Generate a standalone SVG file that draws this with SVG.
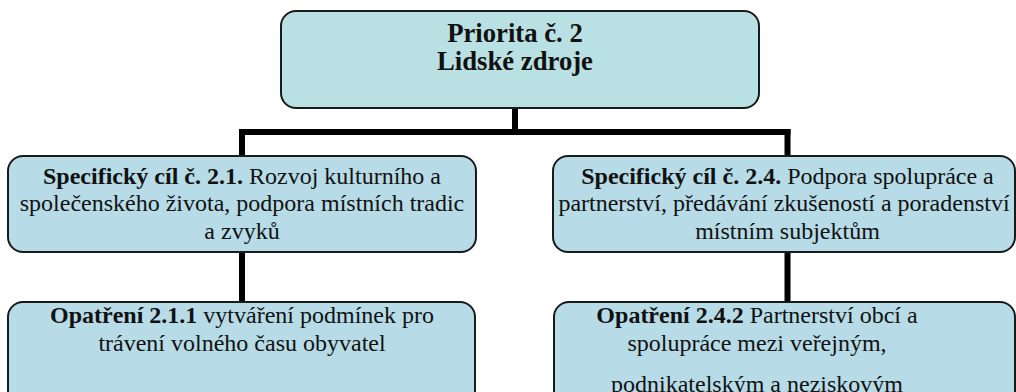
<svg xmlns="http://www.w3.org/2000/svg" width="1016" height="392" viewBox="0 0 1016 392" font-family="Liberation Serif">
<style>
.box{stroke:#1a1a1a;stroke-width:2}
.top{fill:#b9e0e3}
.sub{fill:#b7dce7}
text{fill:#111;text-anchor:middle}
.t1{font-size:26.7px;font-weight:bold}
.t2{font-size:24px}
.b{font-weight:bold}
.conn{stroke:#000;stroke-width:6;fill:none}
</style>
<rect width="1016" height="392" fill="#fff"/>
<g id="connectors">
<path class="conn" d="M515 107V132"/>
<path class="conn" d="M239 132H790.5"/>
<path class="conn" d="M242 129V156"/>
<path class="conn" d="M787.5 129V156"/>
<path class="conn" d="M242 252V303"/>
<path class="conn" d="M787.5 252V303"/>
</g>
<g id="n-priorita" font-family="Liberation Serif">
<rect class="box top" x="281" y="11" width="478" height="97" rx="15"/>
<text class="t1" x="515" y="42">Priorita č. 2</text>
<text class="t1" x="515" y="70">Lidské zdroje</text>
</g>
<g id="n-cil21" font-family="Liberation Serif">
<rect class="box sub" x="8" y="156" width="468" height="96" rx="15"/>
<text class="t2" x="242" y="183.5"><tspan class="b">Specifický cíl č. 2.1.</tspan> Rozvoj kulturního a</text>
<text class="t2" x="242" y="211">společenského života, podpora místních tradic</text>
<text class="t2" x="242" y="238.5">a zvyků</text>
</g>
<g id="n-cil24" font-family="Liberation Serif">
<rect class="box sub" x="553" y="156" width="462" height="96" rx="15"/>
<text class="t2" x="787.5" y="183.5"><tspan class="b">Specifický cíl č. 2.4.</tspan> Podpora spolupráce a</text>
<text class="t2" x="784" y="211">partnerství, předávání zkušeností a poradenství</text>
<text class="t2" x="787.5" y="238.5">místním subjektům</text>
</g>
<g id="n-opatreni211" font-family="Liberation Serif">
<rect class="box sub" x="8" y="302" width="467" height="130" rx="15"/>
<text class="t2" x="242" y="322.5"><tspan class="b">Opatření 2.1.1</tspan> vytváření podmínek pro</text>
<text class="t2" x="242" y="350.5">trávení volného času obyvatel</text>
</g>
<g id="n-opatreni242" font-family="Liberation Serif">
<rect class="box sub" x="554" y="302" width="461" height="130" rx="15"/>
<text class="t2" x="757" y="322.5"><tspan class="b">Opatření 2.4.2</tspan> Partnerství obcí a</text>
<text class="t2" x="757" y="350.5">spolupráce mezi veřejným,</text>
<text class="t2" x="757" y="392">podnikatelským a neziskovým</text>
</g>
</svg>
